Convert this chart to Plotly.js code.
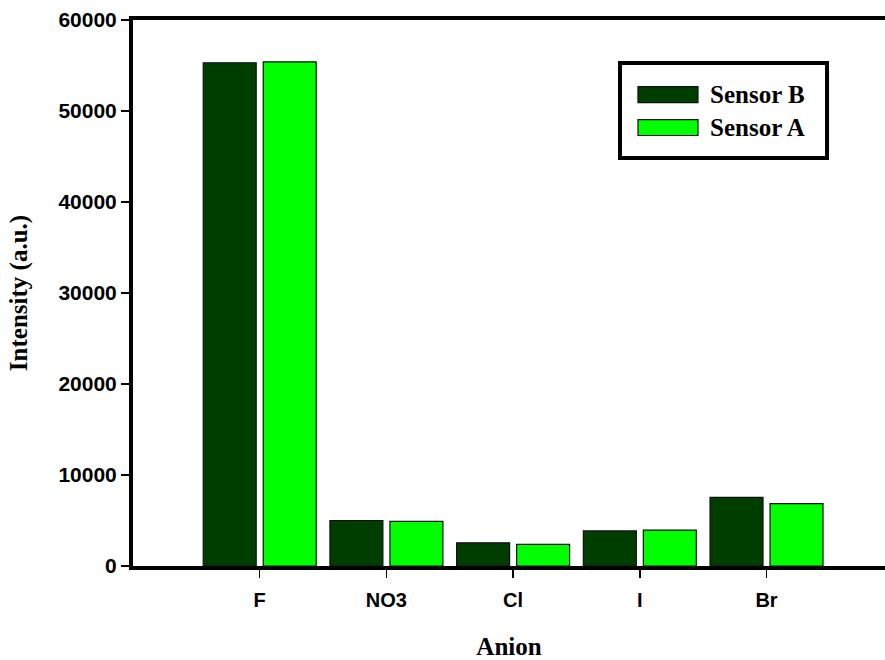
<!DOCTYPE html>
<html>
<head>
<meta charset="utf-8">
<script src="https://cdn.plot.ly/plotly-3.0.1.min.js"></script>
<style>
  html, body { margin: 0; padding: 0; background: #ffffff; }
  #chart { width: 885px; height: 660px; }
</style>
</head>
<body>
<div id="chart"></div>
<script>
// Anion response of the two sensors
const anions = ["F", "NO3", "Cl", "I", "Br"];
const sensorBName = "Sensor B";
const sensorAName = "Sensor A";
const sensorB = [55300, 5000, 2550, 3850, 7550];
const sensorA = [55400, 4900, 2380, 3950, 6850];
const yTicks = [0, 10000, 20000, 30000, 40000, 50000, 60000];

const darkGreen = "#003d00";
const brightGreen = "#00ff00";
const serif = "'Liberation Serif', 'Times New Roman', serif";
const sans = "'Liberation Sans', Arial, sans-serif";

const traces = [
  {
    type: "bar", name: sensorBName, x: anions, y: sensorB,
    marker: { color: darkGreen, line: { color: "#111111", width: 1.2 } },
    showlegend: false, hoverinfo: "x+y+name"
  },
  {
    type: "bar", name: sensorAName, x: anions, y: sensorA,
    marker: { color: brightGreen, line: { color: "#111111", width: 1.2 } },
    showlegend: false, hoverinfo: "x+y+name"
  }
];

// Boxed key in the upper right corner of the plot area
const key = { x0: 0.6476, x1: 0.9229, y0: 0.7473, y1: 0.9212 };
const keyRows = [
  { name: sensorBName, color: darkGreen, yc: 0.8632 },
  { name: sensorAName, color: brightGreen, yc: 0.8031 }
];
const shapes = [
  {
    type: "rect", xref: "paper", yref: "paper",
    x0: key.x0, x1: key.x1, y0: key.y0, y1: key.y1,
    line: { color: "#000000", width: 4 }, fillcolor: "#ffffff", layer: "above"
  }
];
const annotations = [];
keyRows.forEach(r => {
  shapes.push({
    type: "rect", xref: "paper", yref: "paper",
    x0: 0.6715, x1: 0.7513, y0: r.yc - 0.0146, y1: r.yc + 0.0146,
    line: { color: "#111111", width: 1.2 }, fillcolor: r.color, layer: "above"
  });
  annotations.push({
    xref: "paper", yref: "paper", x: 0.7646, y: r.yc,
    xanchor: "left", yanchor: "middle", showarrow: false,
    text: r.name, font: { family: serif, size: 25, color: "#000000", weight: "bold" }
  });
});

const layout = {
  width: 885, height: 660,
  margin: { l: 133, r: 0, t: 20, b: 94, pad: 0 },
  paper_bgcolor: "#ffffff", plot_bgcolor: "#ffffff",
  barmode: "group", bargap: 0.053, bargroupgap: 0.117,
  showlegend: false,
  xaxis: {
    type: "category", range: [-1, 4.935],
    showgrid: false, zeroline: false,
    showline: true, linecolor: "#000000", linewidth: 4, mirror: true,
    ticks: "outside", ticklen: 8, tickwidth: 1.5, tickcolor: "#000000",
    ticklabelstandoff: 5,
    tickfont: { family: sans, size: 20, color: "#000000", weight: "bold" },
    title: { text: "Anion", standoff: 33, font: { family: serif, size: 25, color: "#000000", weight: "bold" } }
  },
  yaxis: {
    range: [0, 60000], tickvals: yTicks, ticktext: yTicks.map(String),
    showgrid: false, zeroline: false,
    showline: true, linecolor: "#000000", linewidth: 4, mirror: false,
    ticks: "outside", ticklen: 8, tickwidth: 1.5, tickcolor: "#000000",
    tickfont: { family: sans, size: 21, color: "#000000", weight: "bold" },
    title: { text: "Intensity (a.u.)", standoff: 25, font: { family: serif, size: 25, color: "#000000", weight: "bold" } }
  },
  shapes: shapes,
  annotations: annotations
};

Plotly.newPlot("chart", traces, layout, { displayModeBar: false, staticPlot: true });
</script>
</body>
</html>
